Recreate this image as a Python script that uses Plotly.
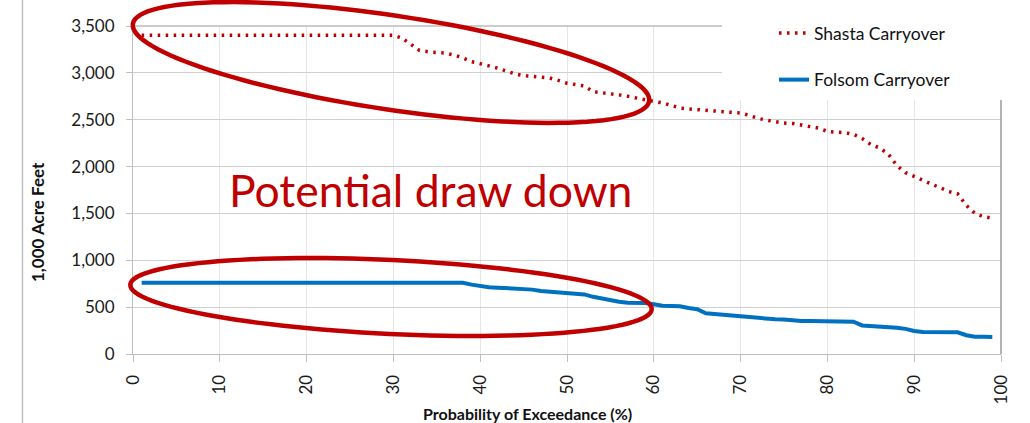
import numpy as np
import plotly.graph_objects as go

# ---------------- data ----------------
pct = list(range(1, 100))

shasta = [3400] * 30 + [
    3370, 3300, 3240, 3225, 3215, 3210, 3190, 3160, 3120, 3100,
    3075, 3050, 3020, 2990, 2970, 2960, 2950, 2945, 2920, 2890,
    2875, 2860, 2800, 2790, 2775, 2765, 2750, 2730, 2710, 2695,
    2680, 2650, 2625, 2615, 2608, 2600, 2593, 2586, 2578, 2571,
    2546, 2515, 2495, 2475, 2464, 2460, 2445, 2425, 2410, 2375,
    2370, 2360, 2345, 2300, 2235, 2200, 2136, 2010, 1935, 1895,
    1850, 1815, 1775, 1733, 1710, 1586, 1500, 1465, 1450]

folsom = [760] * 38 + [
    740, 722, 712, 708, 705, 695, 692, 687, 672, 665,
    660, 645, 640, 636, 610, 590, 572, 558, 546, 545,
    544, 530, 515, 512, 509, 490, 478, 435, 431, 420,
    410, 400, 390, 380, 372, 370, 367, 358, 352, 351,
    350, 350, 350, 349, 345, 305, 300, 296, 290, 280,
    268, 245, 235, 234, 233, 232, 231, 200, 185, 183,
    182]

x_ticks = list(range(0, 101, 10))
y_ticks = list(range(0, 3501, 500))

# ---------------- layout geometry (pixels of the 1030x423 page) ----------------
W, H = 1030, 423
PL, PR, PT, PB = 133, 1001, 26, 354   # plot area edges
RED = "#c00000"
BLUE = "#0070c0"
FONT = "Lato"


def p(px, py):
    """page pixel -> paper coordinates (margins are zero, so paper = page)"""
    return px / W, 1 - py / H


def ellipse_path(cx, cy, a, b, theta_deg, n=120):
    th = np.deg2rad(theta_deg)
    t = np.linspace(0, 2 * np.pi, n, endpoint=False)
    xs = cx + a * np.cos(t) * np.cos(th) - b * np.sin(t) * np.sin(th)
    ys = cy + a * np.cos(t) * np.sin(th) + b * np.sin(t) * np.cos(th)
    pts = [p(x, y) for x, y in zip(xs, ys)]
    return "M" + " L".join(f"{x:.5f},{y:.5f}" for x, y in pts) + " Z"


fig = go.Figure()
fig.add_trace(go.Scatter(
    x=pct, y=shasta, mode="lines", name="Shasta Carryover",
    legendgroup="a",
    line=dict(color=RED, width=3.5, dash="2.5px,5.5px")))
fig.add_trace(go.Scatter(
    x=pct, y=folsom, mode="lines", name="Folsom Carryover",
    legendgroup="b",
    line=dict(color=BLUE, width=4)))

x_dom = [PL / W, PR / W]
y_dom = [1 - PB / H, 1 - PT / H]

shapes = []
# plot area top and right borders
shapes.append(dict(type="line", xref="paper", yref="paper",
                   x0=x_dom[0], x1=x_dom[1], y0=y_dom[1], y1=y_dom[1],
                   line=dict(color="#9a9a9a", width=1.2), layer="above"))
shapes.append(dict(type="line", xref="paper", yref="paper",
                   x0=x_dom[1], x1=x_dom[1], y0=y_dom[0], y1=y_dom[1],
                   line=dict(color="#9a9a9a", width=1.5), layer="above"))
# white area behind the legend
rx0, ry1 = p(722, 0)
rx1, ry0 = p(1030, 100)
shapes.append(dict(type="rect", xref="paper", yref="paper", x0=rx0, x1=rx1,
                   y0=ry0, y1=ry1, fillcolor="white", line=dict(width=0),
                   layer="above"))
# ellipses
shapes.append(dict(type="path", xref="paper", yref="paper",
                   path=ellipse_path(391, 62.5, 261, 47, 8.5),
                   line=dict(color=RED, width=4.5), layer="above"))
shapes.append(dict(type="path", xref="paper", yref="paper",
                   path=ellipse_path(391, 297, 261, 37, 2.7),
                   line=dict(color=RED, width=4.5), layer="above"))
# outer left frame line
fx, _ = p(22.5, 0)
shapes.append(dict(type="line", xref="paper", yref="paper", x0=fx, x1=fx, y0=0, y1=1,
                   line=dict(color="#b0b0b0", width=1.3), layer="above"))

annotations = []
# outer left frame line, also as a thin filled annotation box
annotations.append(dict(text=" ", xref="paper", yref="paper", x=fx, y=0.5,
                        xanchor="center", yanchor="middle", showarrow=False,
                        width=1, height=H, borderpad=0, borderwidth=0,
                        bgcolor="#bdbdbd", font=dict(size=1)))
tx, ty = p(430, 189)
annotations.append(dict(text="Potential draw down", xref="paper", yref="paper",
                        x=tx, y=ty, xanchor="center", yanchor="middle",
                        showarrow=False, font=dict(family=FONT, size=44.5, color=RED)))
ax_, ay_ = p(37, 222)
annotations.append(dict(text="<b>1,000 Acre Feet</b>", xref="paper", yref="paper",
                        x=ax_, y=ay_, xanchor="center", yanchor="middle", textangle=-90,
                        showarrow=False, font=dict(family=FONT, size=17, color="#111")))
bx_, by_ = p(527, 413)
annotations.append(dict(text="<b>Probability of Exceedance (%)</b>", xref="paper", yref="paper",
                        x=bx_, y=by_, xanchor="center", yanchor="middle",
                        showarrow=False, font=dict(family=FONT, size=16, color="#111")))

lgx, lgy = p(774, 15)

fig.update_layout(
    width=W, height=H,
    margin=dict(l=0, r=0, t=0, b=0, pad=0),
    paper_bgcolor="white", plot_bgcolor="white",
    font=dict(family=FONT, color="#1a1a1a"),
    showlegend=True,
    legend=dict(x=lgx, y=lgy, xanchor="left", yanchor="top",
                bgcolor="rgba(0,0,0,0)", font=dict(family=FONT, size=17.5, color="#111"),
                tracegroupgap=21, itemwidth=30),
    shapes=shapes,
    annotations=annotations,
    xaxis=dict(domain=x_dom, range=[0, 100], tickvals=x_ticks,
               ticktext=[str(v) for v in x_ticks], automargin=False,
               tickangle=-90, tickfont=dict(family=FONT, size=17, color="#1a1a1a"),
               showline=True, linecolor="#bfbfbf", linewidth=1,
               ticks="outside", ticklen=7, tickcolor="#bfbfbf",
               showgrid=True, gridcolor="#e6e6e6", gridwidth=1, zeroline=False,
               ticklabelstandoff=6),
    yaxis=dict(domain=y_dom, range=[0, 3500], tickvals=y_ticks,
               ticktext=[f"{v:,}" for v in y_ticks], automargin=False,
               tickfont=dict(family=FONT, size=17, color="#1a1a1a"),
               showline=True, linecolor="#bfbfbf", linewidth=1,
               ticks="outside", ticklen=6, tickcolor="#bfbfbf",
               showgrid=True, gridcolor="#cfcfcf", gridwidth=1, zeroline=False,
               ticklabelstandoff=8),
)

fig.write_html(
    "out.html",
    config={"displayModeBar": False},
    post_script="document.body.style.margin='0';document.body.style.overflow='hidden';",
)
